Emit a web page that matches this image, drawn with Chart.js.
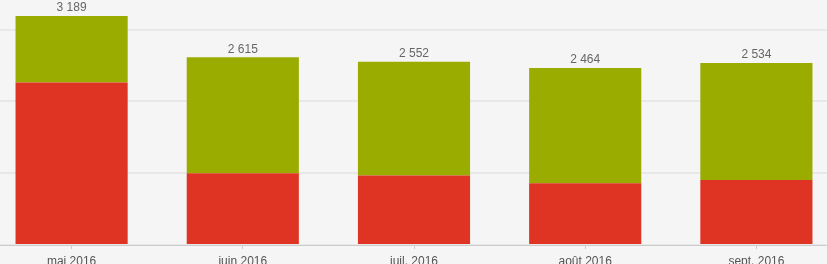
<!DOCTYPE html>
<html>
<head>
<meta charset="utf-8">
<script src="https://cdn.jsdelivr.net/npm/chart.js@4"></script>
<style>
  html, body { margin: 0; padding: 0; background: #f5f5f5; overflow: hidden; }
  body { width: 827px; height: 264px; position: relative; }
  #myChart { position: absolute; left: -14px; top: 0; }
</style>
</head>
<body>
<canvas id="myChart" width="856" height="264"></canvas>
<script>
// months on the x axis
const months = ['mai 2016', 'juin 2016', 'juil. 2016', 'août 2016', 'sept. 2016'];

// bottom (red) and top (green) parts of each stack
const redValues = [2262, 1000, 968, 859, 906];
const greenValues = [927, 1615, 1584, 1605, 1628];

// totals written over the bars
const totals = [3189, 2615, 2552, 2464, 2534];

// horizontal grid lines (no labels shown)
const gridValues = [0, 1000, 2000, 3000];

// french style: space between thousands
function formatNumber(n) {
  return String(n).replace(/\B(?=(\d{3})+(?!\d))/g, ' ');
}

// draws the total above each stack
const totalLabels = {
  id: 'totalLabels',
  afterDatasetsDraw(chart) {
    const ctx = chart.ctx;
    const x = chart.scales.x;
    const y = chart.scales.y;
    ctx.save();
    ctx.font = '12px "Helvetica Neue", Arial, "Liberation Sans", sans-serif';
    ctx.fillStyle = '#666';
    ctx.textAlign = 'center';
    ctx.textBaseline = 'bottom';
    totals.forEach((t, i) => {
      ctx.fillText(formatNumber(t), x.getPixelForValue(i), y.getPixelForValue(t) - 2);
    });
    ctx.restore();
  }
};

Chart.defaults.font.family = '"Helvetica Neue", Arial, "Liberation Sans", sans-serif';

new Chart(document.getElementById('myChart'), {
  type: 'bar',
  data: {
    labels: months,
    datasets: [
      { data: redValues, backgroundColor: '#df3423', barPercentage: 0.655, categoryPercentage: 1 },
      { data: greenValues, backgroundColor: '#9aac00', barPercentage: 0.655, categoryPercentage: 1 }
    ]
  },
  options: {
    responsive: false,
    animation: false,
    devicePixelRatio: 1,
    layout: { padding: 0 },
    plugins: { legend: { display: false }, tooltip: { enabled: false } },
    scales: {
      x: {
        stacked: true,
        afterFit(scale) { scale.height = 19; },
        grid: { offset: false, drawOnChartArea: false, drawTicks: true, tickLength: 4, tickColor: '#ccc' },
        border: { color: '#ccc', width: 1 },
        ticks: { color: '#555', font: { size: 12 }, padding: 5, maxRotation: 0 }
      },
      y: {
        stacked: true,
        min: 0,
        max: 3412,
        afterFit(scale) { scale.width = 0; },
        afterBuildTicks(scale) { scale.ticks = gridValues.map(v => ({ value: v })); },
        ticks: { display: false },
        border: { display: false },
        grid: { drawTicks: false, lineWidth: 2, color: '#e8e8e8' }
      }
    }
  },
  plugins: [totalLabels]
});
</script>
</body>
</html>
